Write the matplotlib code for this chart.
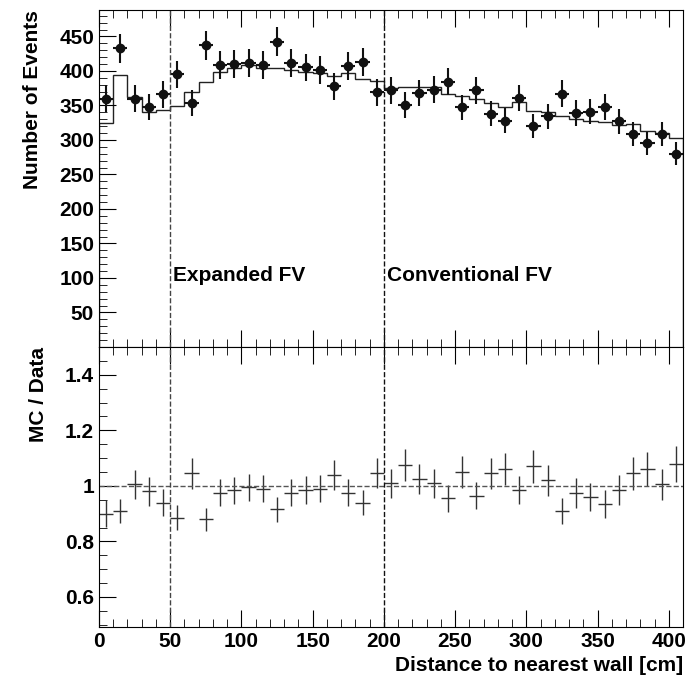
import matplotlib
matplotlib.use('Agg')
import matplotlib.pyplot as plt
import numpy as np
from matplotlib.ticker import MultipleLocator

plt.rcParams['font.family'] = ['Liberation Sans', 'DejaVu Sans']
plt.rcParams['font.weight'] = 'bold'

edges = np.arange(0, 420, 10)
centers = edges[:-1] + 5
data = np.array([360, 433, 360, 348, 366, 395, 354, 437, 408, 410, 411, 408, 442, 412, 405,
                 401, 378, 407, 413, 369, 372, 351, 368, 373, 384, 347, 372, 338, 328, 361,
                 320, 334, 367, 339, 341, 348, 327, 309, 295, 309, 280])
ratio = np.array([0.90, 0.91, 1.005, 0.98, 0.94, 0.885, 1.045, 0.88, 0.975, 0.985, 0.995, 0.99,
                  0.915, 0.975, 0.985, 0.99, 1.04, 0.975, 0.94, 1.045, 1.01, 1.075, 1.025, 1.01,
                  0.955, 1.05, 0.965, 1.045, 1.06, 0.985, 1.07, 1.02, 0.91, 0.975, 0.96, 0.935,
                  0.985, 1.045, 1.06, 1.005, 1.08])
mc = ratio * data
derr = np.sqrt(data)
rerr = ratio * derr / data

fig = plt.figure(figsize=(6.89, 6.79), dpi=100)
ax1 = fig.add_axes([0.1437, 0.489, 0.8476, 0.496])
ax2 = fig.add_axes([0.1437, 0.0766, 0.8476, 0.4124], sharex=ax1)

ax1.stairs(mc, edges, color='#222222', lw=1)
ax1.errorbar(centers, data, yerr=derr, xerr=5, fmt='o', color='#111111', ms=6, lw=1.5, capsize=0)
ax1.set_ylim(0, 488)
ax1.set_xlim(0, 410)
ax1.yaxis.set_minor_locator(MultipleLocator(10))
ax1.set_yticks([50, 100, 150, 200, 250, 300, 350, 400, 450])
ax1.set_ylabel('Number of Events', fontsize=15, fontweight='bold', loc='top', labelpad=12)
plt.setp(ax1.get_xticklabels(), visible=False)
ax1.text(52, 95, 'Expanded FV', fontsize=15, fontweight='bold')
ax1.text(202, 95, 'Conventional FV', fontsize=15, fontweight='bold')

ax2.errorbar(centers, ratio, yerr=rerr, xerr=5, fmt='none', ecolor='#333333', lw=1)
ax2.axhline(1, ls='--', color='#555555', lw=1)
ax2.set_ylim(0.492, 1.5)
ax2.set_yticks([0.6, 0.8, 1.0, 1.2, 1.4])
ax2.set_yticklabels(['0.6', '0.8', '1', '1.2', '1.4'])
ax2.yaxis.set_minor_locator(MultipleLocator(0.05))
ax2.set_ylabel('MC / Data', fontsize=15, fontweight='bold', loc='top', labelpad=12)
ax2.set_xlabel('Distance to nearest wall [cm]', fontsize=15, fontweight='bold', loc='right')
ax2.xaxis.set_major_locator(MultipleLocator(50))
ax2.xaxis.set_minor_locator(MultipleLocator(10))

for ax in (ax1, ax2):
    ax.axvline(50, ls='--', color='#444444', lw=1)
    ax.axvline(200, ls='--', color='#111111', lw=1)
    ax.tick_params(which='both', direction='in', top=True, right=False, labelsize=15)
    ax.tick_params(which='major', length=12)
    ax.tick_params(which='minor', length=6)
    for lab in ax.get_xticklabels() + ax.get_yticklabels():
        lab.set_fontweight('bold')

fig.savefig('out.png', dpi=100)
